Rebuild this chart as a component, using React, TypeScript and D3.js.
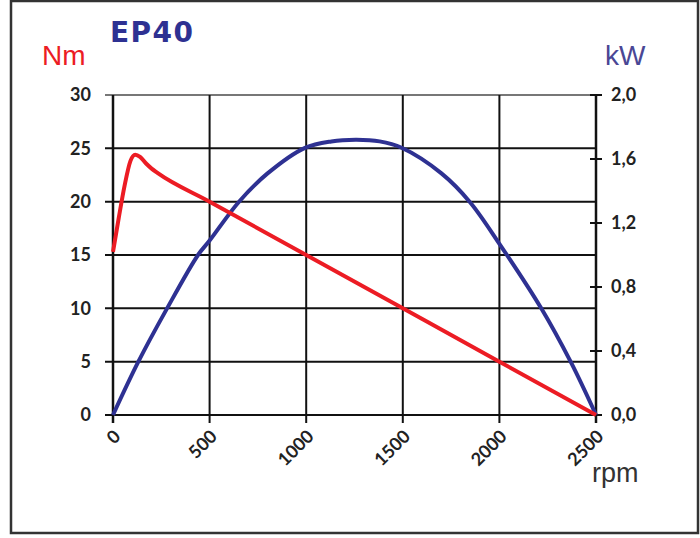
import React from "react";
import * as d3 from "d3";

// rpm ticks and axis labels
const rpmTicks = [0, 500, 1000, 1500, 2000, 2500];
const nmTicks = [0, 5, 10, 15, 20, 25, 30];
const kwTicks = [0, 0.4, 0.8, 1.2, 1.6, 2.0];

// torque curve (rpm, Nm)
const torqueRpm = [0, 30, 60, 90, 115, 140, 170, 200, 230, 500, 1000, 1500, 2000, 2500];
const torqueNm = [15.3, 18.5, 21.5, 23.8, 24.4, 24.2, 23.6, 23.1, 22.7, 20, 15, 10, 5, 0];

// power curve (rpm, kW)
const powerRpm = [0, 130, 277, 440, 500, 650, 800, 994, 1130, 1260, 1380, 1494, 1700, 1848, 2000, 2215, 2370, 2500];
const powerKw = [0, 0.33, 0.66, 1.0, 1.09, 1.33, 1.51, 1.67, 1.71, 1.72, 1.71, 1.67, 1.51, 1.33, 1.07, 0.67, 0.33, 0];

const W = 700;
const H = 538;
const left = 113;
const right = 596;
const top = 95;
const bottom = 415;

const RED = "#ec1c24";
const NAVY = "#2e3192";
const FONT = "Lato, 'DejaVu Sans', sans-serif";

export default function App() {
  const x = d3.scaleLinear().domain([0, 2500]).range([left, right]);
  const yNm = d3.scaleLinear().domain([0, 30]).range([bottom, top]);
  const yKw = d3.scaleLinear().domain([0, 2]).range([bottom, top]);

  const torqueLine = d3
    .line<number>()
    .x((_, i) => x(torqueRpm[i]))
    .y((d) => yNm(d))
    .curve(d3.curveMonotoneX);

  const powerLine = d3
    .line<number>()
    .x((_, i) => x(powerRpm[i]))
    .y((d) => yKw(d))
    .curve(d3.curveCatmullRom.alpha(0.5));

  return (
    <div style={{ position: "absolute", left: 0, top: 0 }}>
      <svg width={W} height={H} style={{ display: "block", background: "#fff" }}>
        <rect x={11} y={1} width={687} height={532} fill="none" stroke="#333" strokeWidth={2.5} />

        {/* horizontal grid (Nm) */}
        {nmTicks.map((t) => (
          <line
            key={"h" + t}
            x1={left - 8}
            x2={right}
            y1={yNm(t)}
            y2={yNm(t)}
            stroke={t === 30 ? "#777" : "#111"}
            strokeWidth={2}
          />
        ))}
        {/* vertical grid (rpm) */}
        {rpmTicks.map((t) => (
          <line
            key={"v" + t}
            x1={x(t)}
            x2={x(t)}
            y1={top}
            y2={bottom + 8}
            stroke="#111"
            strokeWidth={t === 0 || t === 2500 ? 2.5 : 2}
          />
        ))}
        {/* right axis ticks */}
        {kwTicks.map((t) => (
          <line key={"k" + t} x1={right - 6} x2={right + 6} y1={yKw(t)} y2={yKw(t)} stroke="#111" strokeWidth={2} />
        ))}

        {/* left labels */}
        {nmTicks.map((t) => (
          <text
            key={"ln" + t}
            x={91}
            y={yNm(t)}
            dy="0.36em"
            textAnchor="end"
            fontFamily={FONT}
            fontWeight={700}
            fontSize={18}
            fill="#222"
          >
            {t}
          </text>
        ))}
        {/* right labels */}
        {kwTicks.map((t) => (
          <text
            key={"rk" + t}
            x={611}
            y={yKw(t)}
            dy="0.36em"
            fontFamily={FONT}
            fontWeight={700}
            fontSize={18}
            fill="#222"
          >
            {t.toFixed(1).replace(".", ",")}
          </text>
        ))}
        {/* bottom labels, rotated */}
        {rpmTicks.map((t) => (
          <text
            key={"b" + t}
            transform={`translate(${x(t) + 4},${bottom + 18}) rotate(-45)`}
            dy="0.36em"
            textAnchor="end"
            fontFamily={FONT}
            fontWeight={700}
            fontSize={18}
            fill="#222"
          >
            {t}
          </text>
        ))}

        {/* curves */}
        <path d={powerLine(powerKw) ?? ""} fill="none" stroke={NAVY} strokeWidth={4} strokeLinejoin="round" />
        <path d={torqueLine(torqueNm) ?? ""} fill="none" stroke={RED} strokeWidth={4} strokeLinejoin="round" />

        {/* titles */}
        <text x={110} y={42} fontFamily="'DejaVu Sans', sans-serif" fontWeight={700} fontSize={28} fill={NAVY} textLength={83}>
          EP40
        </text>
        <text x={42} y={65} fontFamily="'Liberation Sans', Arial, sans-serif" fontSize={28} fill={RED}>
          Nm
        </text>
        <text x={605} y={65} fontFamily="'Liberation Sans', Arial, sans-serif" fontSize={28} fill="#4a4795">
          kW
        </text>
        <text x={592} y={482} fontFamily="'Liberation Sans', Arial, sans-serif" fontSize={27} fill="#333">
          rpm
        </text>
      </svg>
    </div>
  );
}
